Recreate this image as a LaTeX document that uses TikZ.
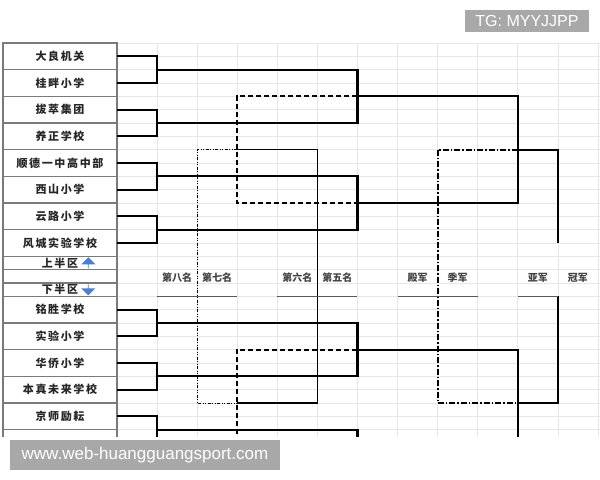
\documentclass[tikz,border=0pt]{standalone}
\usepackage{fontspec}
\setmainfont{Liberation Sans}
\newfontfamily\cjk{Noto Sans CJK SC}
\newfontfamily\cjkwide{Noto Sans CJK SC}[LetterSpace=15]
\usetikzlibrary{shapes.arrows,positioning}
\definecolor{gridgray}{HTML}{E6E6E6}
\definecolor{cellgray}{HTML}{7A7A7A}
\definecolor{markblue}{HTML}{4A7FD0}
\definecolor{wmgray}{HTML}{A8A8A8}
\definecolor{labelgray}{HTML}{444444}

\begin{document}
\begin{tikzpicture}[
  x=40.08pt, y=-13.333pt,
  team/.style={font=\cjkwide\bfseries\fontsize{11}{13}\selectfont, minimum width=114pt, inner sep=0pt, text=black!85},
  rank/.style={font=\cjk\bfseries\fontsize{10}{12}\selectfont, text=labelgray, inner sep=0pt},
  win/.style={line width=2.2pt},
  lose/.style={line width=1.8pt, dash pattern=on 5pt off 3pt},
  fifth/.style={line width=1.3pt},
  seventh/.style={line width=0.9pt, dash pattern=on 3pt off 1.5pt on 1pt off 1.5pt on 1pt off 1.5pt},
  third/.style={line width=1.8pt, dash pattern=on 6pt off 2pt on 1.5pt off 2pt},
  cell/.style={draw=cellgray, line width=1.1pt},
  underline/.style={draw=black!65, line width=1pt},
  gridline/.style={draw=gridgray, line width=0.6pt},
  arrowmark/.style={single arrow, fill=markblue, minimum height=11pt, minimum width=14pt, single arrow head extend=3.5pt, inner sep=0pt},
  stamp/.style={fill=wmgray, text=white, font=\fontsize{16}{18}\selectfont, inner sep=0pt}
]
\useasboundingbox (-2.919,-3.225) rectangle (12.051,32.775);
\fill[white] (-2.919,-3.225) rectangle (12.051,32.775);

\begin{scope}
\clip (-2.919,-0.1) rectangle (12.051,29.55);
% sheet grid
\foreach \m in {0,...,12} \draw[gridline] (\m,0) -- (\m,29.55);
\foreach \n in {0,...,29} \draw[gridline] (0,\n) -- (12.051,\n);
% team column
\draw[cell] (-2.844,29.55) -- (-2.844,0) -- (0,0) -- (0,29.55);
\foreach \n in {2,4,...,16,17,18,19,21,23,25,27,29} \draw[cell] (-2.844,\n) -- (0,\n);

\foreach \name [count=\i] in {大良机关,桂畔小学,拔萃集团,养正学校,顺德一中高中部,西山小学,云路小学,风城实验学校}
  \node[team] (t\i) at (-1.422,2*\i-1) {\name};
\foreach \name [count=\i] in {铭胜学校,实验小学,华侨小学,本真未来学校,京师励耘}
  \node[team] (b\i) at (-1.422,2*\i+18) {\name};
\coordinate (b6) at (0,30);

\node[team, minimum width=0pt] (upper) at (-1.422,16.5) {上半区};
\node[arrowmark, shape border rotate=90, right=4pt of upper] (uparrow) {};
\node[team, minimum width=0pt] (lower) at (-1.422,18.5) {下半区};
\node[arrowmark, shape border rotate=270, right=4pt of lower] (downarrow) {};

% match points
\coordinate (r1a) at (1,2);  \coordinate (r1b) at (1,6);
\coordinate (r1c) at (1,10); \coordinate (r1d) at (1,14);
\coordinate (r1e) at (1,21); \coordinate (r1f) at (1,25);
\coordinate (r1g) at (1,29); \coordinate (r1h) at (1,33);
\coordinate (q1) at (6,4);  \coordinate (q2) at (6,12);
\coordinate (q3) at (6,23); \coordinate (q4) at (6,31);
\coordinate (s1) at (10,8); \coordinate (s2) at (10,27);
\coordinate (f1) at (11,15); \coordinate (f2) at (11,19);
\coordinate (p1) at (3,8);  \coordinate (p2) at (3,27);
\coordinate (c3) at (8,17.5); \coordinate (c5) at (5,17.5); \coordinate (c7) at (2,17.5);

% first round
\foreach \a/\b/\r in {t1/t2/r1a,t3/t4/r1b,t5/t6/r1c,t7/t8/r1d,b1/b2/r1e,b3/b4/r1f}
  \draw[win] (\a.east) -| (\r) |- (\b.east);
\draw[win] (b5.east) -| (r1g) |- (b6);
% second round, semis, final
\draw[win] (r1a) -| (q1) |- (r1b);
\draw[win] (r1c) -| (q2) |- (r1d);
\draw[win] (r1e) -| (q3) |- (r1f);
\draw[win] (r1g) -| (q4) |- (r1h);
\draw[win] (q1) -| (s1) |- (q2);
\draw[win] (q3) -| (s2) |- (q4);
\draw[win] (s1) -| (f1);
\draw[win] (s2) -| (f2);
% placing matches
\draw[lose] (q1) -| (p1) |- (q2);
\draw[lose] (q3) -| (p2) |- (q4);
\draw[fifth] (p1) -| (c5) |- (p2);
\draw[seventh] (p1) -| (c7) |- (p2);
\draw[third] (s1) -| (c3) |- (s2);
\end{scope}

% ranks
\foreach \x/\txt [count=\k] in {1.5/第八名,2.5/第七名,4.5/第六名,5.5/第五名,7.5/殿军,8.5/季军,10.5/亚军,11.5/冠军}
  \node[rank] (rank\k) at (\x,17.6) {\txt};
\foreach \a/\b in {1/3,4/6,7/9,10/11} \draw[underline] (\a,19) -- (\b,19);

% stamps
\node[stamp, minimum width=270pt, minimum height=30pt, font=\fontsize{17}{19}\selectfont] (site) at (0.699,30.9) {www.web-huangguangsport.com};
\node[stamp, minimum width=124pt, minimum height=22pt] (tg) at (10.23,-1.65) {TG: MYYJJPP};
\end{tikzpicture}
\end{document}
